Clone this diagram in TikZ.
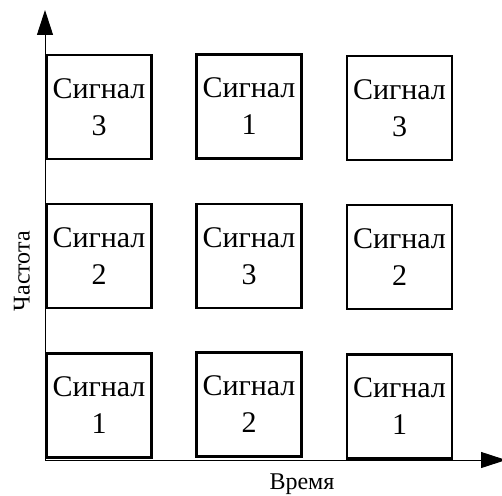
\documentclass[tikz,border=0pt]{standalone}
\usepackage{fontspec}
\setmainfont{Liberation Serif}
\usetikzlibrary{arrows.meta}
\begin{document}
\begin{tikzpicture}[x=1pt,y=-1pt,
  sigbox/.style={draw,line width=2.6pt,minimum width=105pt,minimum height=104pt,inner sep=0pt,align=center,font=\fontsize{30}{37}\selectfont},
  axisline/.style={line width=1pt,-{Triangle[length=25pt,width=16pt]}},
  axlabel/.style={font=\fontsize{24}{28}\selectfont,inner sep=0pt}]
\useasboundingbox (0,0) rectangle (502,495);
\coordinate (O) at (45,460);
\coordinate (ytip) at (45,10);
\coordinate (xtip) at (506,460);
\draw[axisline] (O) -- (ytip);
\draw[axisline] (O) -- (xtip);
\node[sigbox] (b11) at (99,107) {Сигнал\\3};
\node[sigbox] (b12) at (249,106.5) {Сигнал\\1};
\node[sigbox] (b13) at (399.5,108) {Сигнал\\3};
\node[sigbox] (b21) at (99,256) {Сигнал\\2};
\node[sigbox] (b22) at (249,256) {Сигнал\\3};
\node[sigbox] (b23) at (399.5,257) {Сигнал\\2};
\node[sigbox] (b31) at (99,405.5) {Сигнал\\1};
\node[sigbox] (b32) at (249,404.5) {Сигнал\\2};
\node[sigbox] (b33) at (399.5,406.5) {Сигнал\\1};
\node[axlabel] (tlab) at (302,484) {Время};
\node[axlabel,rotate=90] (flab) at (22,271) {Частота};
\end{tikzpicture}
\end{document}
